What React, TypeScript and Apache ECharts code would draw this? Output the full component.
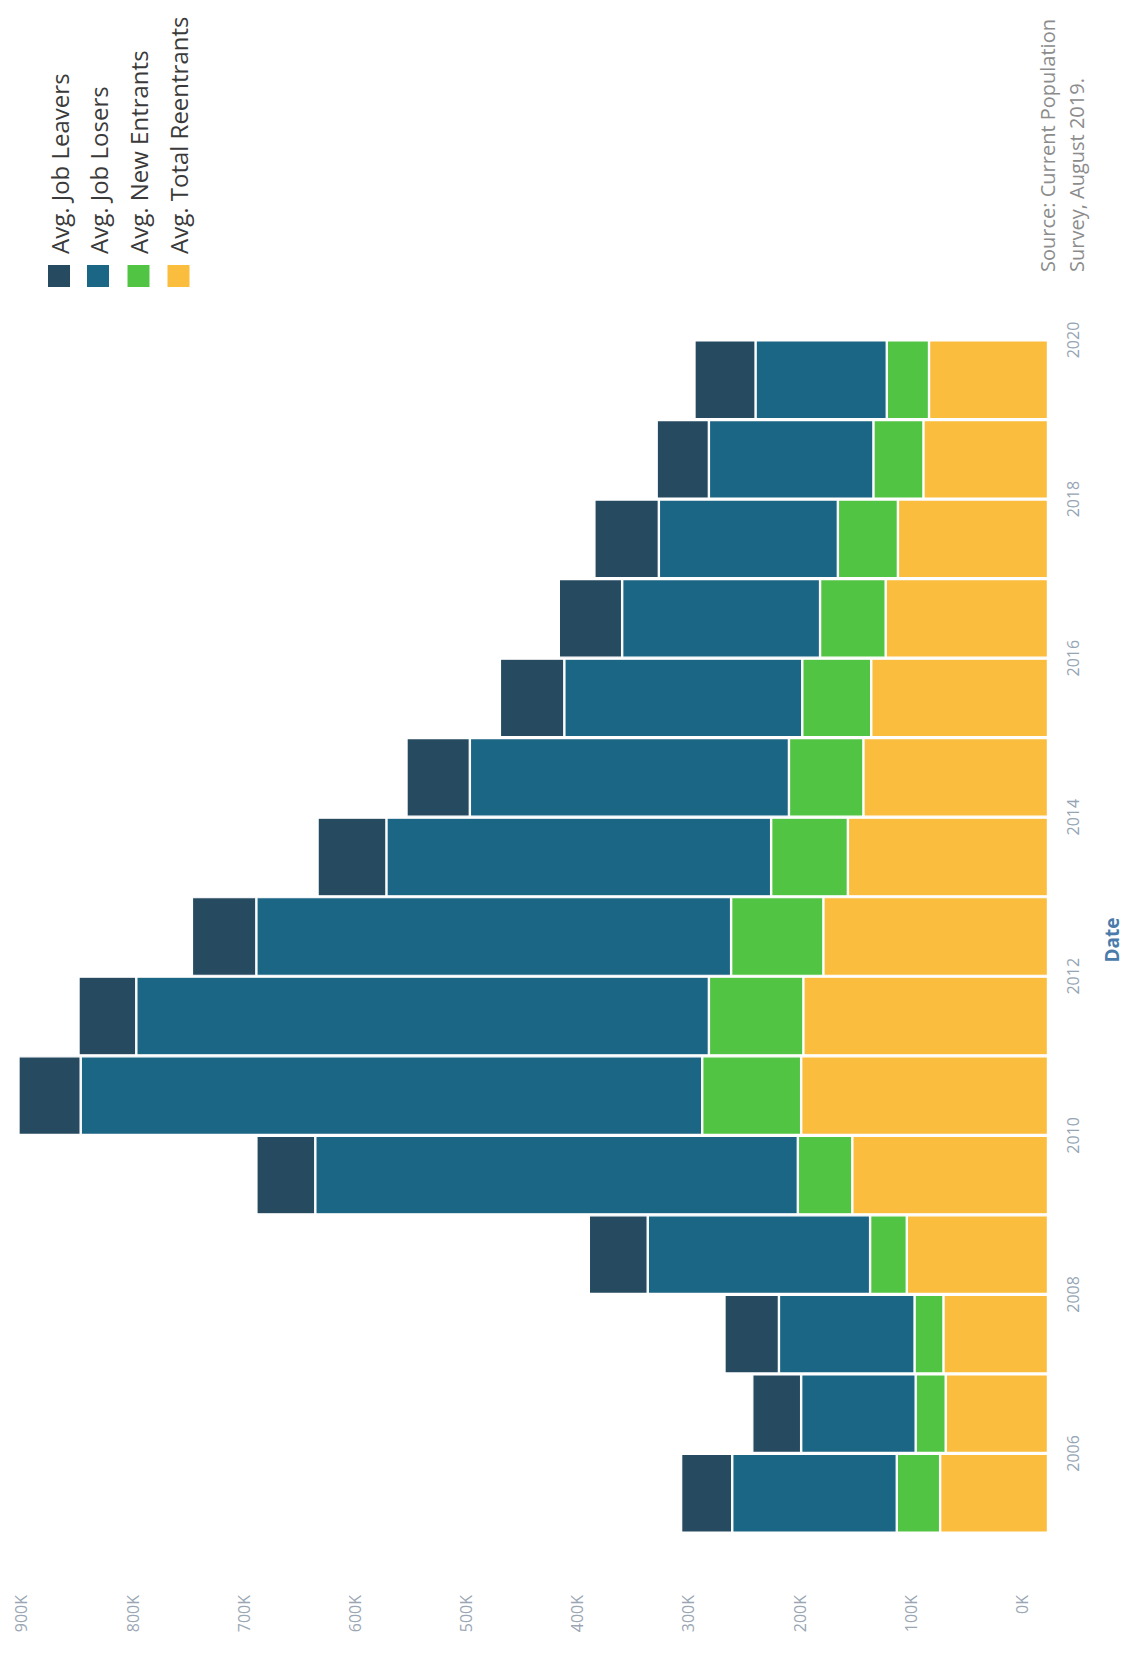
import React, { useEffect, useRef } from "react";
import * as echarts from "echarts";

// Unemployed persons by reason, yearly averages (persons)
const years = ["2005", "2006", "2007", "2008", "2009", "2010", "2011", "2012", "2013", "2014", "2015", "2016", "2017", "2018", "2019"];
const jobLeavers = [46000, 44000, 49000, 53000, 53000, 56000, 52000, 58000, 62000, 57000, 58000, 57000, 58000, 47000, 55000];
const jobLosers = [148000, 103000, 122000, 200000, 434000, 559000, 515000, 427000, 346000, 287000, 214000, 178000, 161000, 148000, 118000];
const newEntrants = [39000, 27000, 26000, 33000, 49000, 89000, 85000, 83000, 69000, 67000, 62000, 59000, 54000, 45000, 38000];
const totalReentrants = [97000, 92000, 94000, 127000, 176000, 222000, 220000, 202000, 180000, 166000, 159000, 146000, 135000, 112000, 107000];

const yearTickLabels = [2006, 2008, 2010, 2012, 2014, 2016, 2018, 2020];
const valueTickLabels = ["0K", "100K", "200K", "300K", "400K", "500K", "600K", "700K", "800K", "900K"];

const seriesNames = ["Avg. Job Leavers", "Avg. Job Losers", "Avg. New Entrants", "Avg. Total Reentrants"];
const seriesColors = ["#264b61", "#1b6585", "#52c443", "#fbbd3d"];

const sourceText = "Source: Current Population\nSurvey, August 2019.";

const W = 1129;
const H = 1654;

export default function App() {
  const ref = useRef<HTMLDivElement>(null);

  useEffect(() => {
    if (!ref.current) return;
    const chart = echarts.init(ref.current, null, { renderer: "svg", width: W, height: H });
    const font = '"Open Sans", "Noto Sans", sans-serif';

    // stacked from the baseline outwards: reentrants, new entrants, losers, leavers
    const stackOrder = [
      { name: seriesNames[3], data: totalReentrants, color: seriesColors[3] },
      { name: seriesNames[2], data: newEntrants, color: seriesColors[2] },
      { name: seriesNames[1], data: jobLosers, color: seriesColors[1] },
      { name: seriesNames[0], data: jobLeavers, color: seriesColors[0] },
    ];

    const legendRows = [59, 98, 138.5, 178.5];
    const legendGraphics: any[] = [];
    seriesNames.forEach((name, i) => {
      legendGraphics.push({
        type: "rect",
        shape: { x: legendRows[i] - 11, y: 265, width: 22, height: 22 },
        style: { fill: seriesColors[i] },
      });
      legendGraphics.push({
        type: "text",
        x: legendRows[i],
        y: 254,
        rotation: Math.PI / 2,
        style: {
          text: name,
          fill: "#3a3a3a",
          font: `24px ${font}`,
          align: "left",
          verticalAlign: "middle",
        },
      });
    });

    chart.setOption({
      animation: false,
      backgroundColor: "#ffffff",
      textStyle: { fontFamily: font },
      grid: { left: 14, right: 81, top: 340, bottom: 121, containLabel: false, outerBoundsMode: "none" },
      xAxis: {
        type: "value",
        inverse: true,
        min: 0,
        max: 930000,
        interval: 100000,
        position: "bottom",
        axisLine: { show: false },
        axisTick: { show: false },
        splitLine: { show: false },
        axisLabel: {
          rotate: 90,
          margin: 62,
          color: "#9aa6b3",
          fontSize: 16,
          verticalAlign: "bottom",
          lineHeight: 52,
          formatter: (v: number) => (v % 100000 === 0 ? valueTickLabels[v / 100000] ?? "" : ""),
        },
      },
      yAxis: [
        {
          type: "category",
          data: years,
          position: "right",
          show: false,
        },
        {
          type: "value",
          min: 2005,
          max: 2020,
          interval: 1,
          position: "right",
          axisLine: { show: false },
          axisTick: { show: false },
          splitLine: { show: false },
          axisLabel: {
            rotate: 90,
            margin: 17,
            color: "#95a5b4",
            fontSize: 16,
            formatter: (v: number) => (yearTickLabels.includes(v) ? String(v) : ""),
          },
        },
      ],
      series: stackOrder.map((s) => ({
        name: s.name,
        type: "bar",
        stack: "total",
        xAxisIndex: 0,
        yAxisIndex: 0,
        barCategoryGap: "1%",
        data: s.data,
        itemStyle: { color: s.color, borderColor: "#ffffff", borderWidth: 1.2 },
      })),
      graphic: [
        ...legendGraphics,
        {
          type: "text",
          x: 1062,
          y: 272,
          rotation: Math.PI / 2,
          style: {
            text: sourceText,
            fill: "#8c8c8c",
            font: `20px ${font}`,
            lineHeight: 29,
            align: "left",
            verticalAlign: "middle",
          },
        },
        {
          type: "text",
          x: 1112,
          y: 940,
          rotation: Math.PI / 2,
          style: {
            text: "Date",
            fill: "#4a7bab",
            font: `bold 19px ${font}`,
            align: "center",
            verticalAlign: "middle",
          },
        },
      ],
    });

    return () => {
      chart.dispose();
    };
  }, []);

  return (
    <div
      ref={ref}
      style={{ position: "fixed", left: 0, top: 0, width: W, height: H, background: "#ffffff" }}
    />
  );
}
